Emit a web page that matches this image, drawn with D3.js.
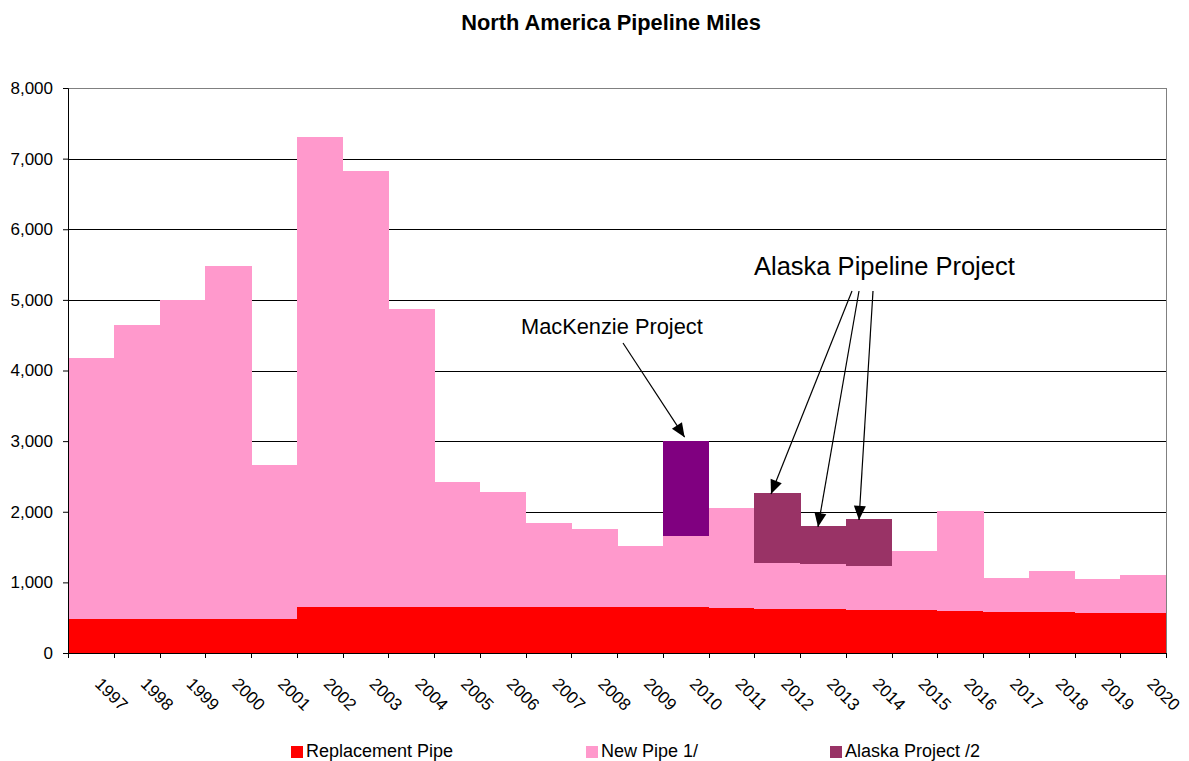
<!DOCTYPE html>
<html><head><meta charset="utf-8">
<script src="https://cdn.jsdelivr.net/npm/d3@7"></script>
<style>
body{margin:0;background:#fff;}
text{font-family:"Liberation Sans",Arial,sans-serif;fill:#000;}
</style></head>
<body>
<svg id="chart" width="1189" height="761"></svg>
<script>
const years = ["1997","1998","1999","2000","2001","2002","2003","2004","2005","2006","2007","2008","2009","2010","2011","2012","2013","2014","2015","2016","2017","2018","2019","2020"];
const replacementPipe = [480,480,480,480,480,650,650,650,650,650,650,650,650,650,640,625,625,610,610,595,580,580,565,565];
const newPipe = [3700,4170,4520,5000,2180,6650,6170,4220,1770,1630,1190,1110,865,1010,1414,653,630,625,835,1415,485,580,483,540];
const alaskaProject = [0,0,0,0,0,0,0,0,0,0,0,0,0,0,0,988,544,663,0,0,0,0,0,0];
const mackenzieProject = [0,0,0,0,0,0,0,0,0,0,0,0,0,1340,0,0,0,0,0,0,0,0,0,0];
const yTicks = [0,1000,2000,3000,4000,5000,6000,7000,8000];
const seriesNames = ["Replacement Pipe","New Pipe 1/","Alaska Project /2","MacKenzie Project"];
const legendNames = ["Replacement Pipe","New Pipe 1/","Alaska Project /2"];
const colors = {"Replacement Pipe":"#FF0000","New Pipe 1/":"#FF99CC","Alaska Project /2":"#993366","MacKenzie Project":"#800080"};

const rows = years.map((y,i)=>({year:y,"Replacement Pipe":replacementPipe[i],"New Pipe 1/":newPipe[i],"Alaska Project /2":alaskaProject[i],"MacKenzie Project":mackenzieProject[i]}));

const svg = d3.select("#chart");
const L=68, R=1166, T=88, B=653;
const x = d3.scaleBand().domain(years).range([L,R]).padding(0);
const y = d3.scaleLinear().domain([0,8000]).range([B,T]);

// title
svg.append("text").attr("x",611).attr("y",30).attr("text-anchor","middle")
  .style("font-weight","bold").style("font-size","21.8px").text("North America Pipeline Miles");

// gridlines
svg.append("g").selectAll("line").data(yTicks.filter(d=>d>0)).join("line")
  .attr("x1",L).attr("x2",R).attr("y1",d=>Math.round(y(d))+0.5).attr("y2",d=>Math.round(y(d))+0.5)
  .attr("stroke",d=>d===8000?"#808080":"#000").attr("stroke-width",1);

// bars
const stack = d3.stack().keys(seriesNames);
const stacked = stack(rows);
svg.append("g").selectAll("g").data(stacked).join("g")
  .attr("fill",d=>colors[d.key])
  .selectAll("rect").data(d=>d).join("rect")
  .attr("x",d=>x(d.data.year))
  .attr("width",x.bandwidth()+0.5)
  .attr("y",d=>y(d[1]))
  .attr("height",d=>Math.max(0,y(d[0])-y(d[1])))
  .attr("shape-rendering","crispEdges");

// plot border right
svg.append("line").attr("x1",R+0.5).attr("x2",R+0.5).attr("y1",T).attr("y2",B)
  .attr("stroke","#808080").attr("stroke-width",1);

// y axis
const yAxis = svg.append("g").attr("transform",`translate(${L},0)`)
  .call(d3.axisLeft(y).tickValues(yTicks).tickSize(5).tickFormat(d3.format(",")));
yAxis.select(".domain").attr("stroke","#000");
yAxis.selectAll("text").style("font-size","17px").style("font-family","Liberation Sans, Arial, sans-serif").attr("x",-15).attr("fill","#000");
yAxis.selectAll("line").attr("stroke","#000");

// x axis
const xg = svg.append("g");
xg.append("line").attr("x1",L).attr("x2",R).attr("y1",B+0.5).attr("y2",B+0.5).attr("stroke","#000");
const bounds = [x(years[0])].concat(years.map(d=>x(d)+x.bandwidth()));
xg.selectAll("line.tick").data(bounds).join("line").attr("class","tick")
  .attr("x1",d=>Math.round(d)+0.5).attr("x2",d=>Math.round(d)+0.5).attr("y1",B).attr("y2",B+5).attr("stroke","#000");
xg.selectAll("text").data(years).join("text")
  .attr("transform",d=>`translate(${x(d)+x.bandwidth()/2+3},${B+32}) rotate(45)`)
  .attr("text-anchor","start").style("font-size","17px").text(d=>d);

// annotations
function arrow(x1,y1,x2,y2){
  svg.append("line").attr("x1",x1).attr("y1",y1).attr("x2",x2).attr("y2",y2).attr("stroke","#000").attr("stroke-width",1.2);
  const ang = Math.atan2(y2-y1,x2-x1);
  const len=14, w=6;
  const bx = x2-len*Math.cos(ang), by = y2-len*Math.sin(ang);
  const px = -Math.sin(ang)*w, py = Math.cos(ang)*w;
  svg.append("path").attr("d",`M${x2},${y2}L${bx+px},${by+py}L${bx-px},${by-py}Z`).attr("fill","#000");
}
const mk = years.indexOf("2010");
svg.append("text").attr("x",521).attr("y",334).style("font-size","21.8px").text("MacKenzie Project");
arrow(623,343,x(years[mk])+x.bandwidth()/2-1,y(replacementPipe[mk]+newPipe[mk]+mackenzieProject[mk])-4);
svg.append("text").attr("x",754).attr("y",275).style("font-size","25.5px").text("Alaska Pipeline Project");
const ak = ["2012","2013","2014"];
const starts = [[852,291],[859,291],[873,291]];
ak.forEach((yr,j)=>{
  const i = years.indexOf(yr);
  const top = y(replacementPipe[i]+newPipe[i]+alaskaProject[i]);
  const tx = [771,818,859][j];
  arrow(starts[j][0],starts[j][1],tx,top+1);
});

// legend
const lx = [291,586,830];
const lg = svg.append("g");
legendNames.forEach((n,i)=>{
  lg.append("rect").attr("x",lx[i]).attr("y",746).attr("width",12).attr("height",12).attr("fill",colors[n]);
  lg.append("text").attr("x",lx[i]+15).attr("y",757).style("font-size","18px").text(n);
});
</script>
</body></html>
